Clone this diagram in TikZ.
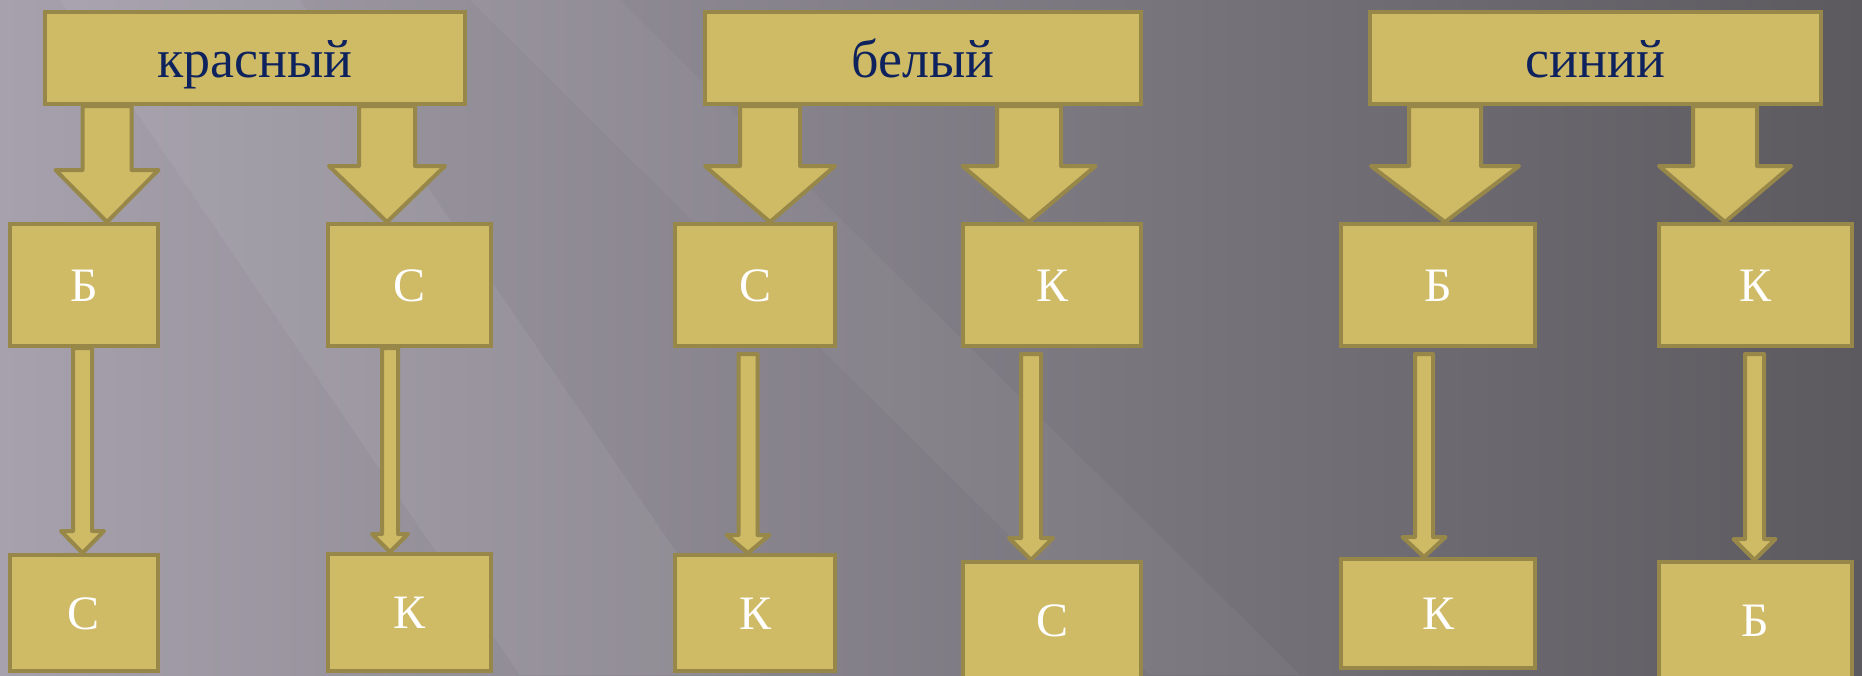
\documentclass[tikz,border=0pt]{standalone}
\usepackage{fontspec}
\setmainfont{Liberation Serif}
\usepackage{xcolor}
\usetikzlibrary{calc}
\definecolor{boxfill}{RGB}{207,186,102}
\definecolor{boxline}{RGB}{151,136,74}
\definecolor{titleblue}{RGB}{14,35,94}
\definecolor{bgleft}{RGB}{166,161,172}
\definecolor{bgmid}{RGB}{118,114,122}
\definecolor{bgright}{RGB}{92,89,95}
\tikzstyle{titlebox} = [rectangle, minimum width=420pt, minimum height=92pt, inner sep=0pt, text height=38pt, text depth=0pt, draw=boxline, fill=boxfill, line width=4pt, text=titleblue, font=\fontsize{54}{60}\selectfont]
\tikzstyle{letterbox} = [rectangle, minimum height=122pt, inner sep=0pt, text height=32pt, text depth=0pt, draw=boxline, fill=boxfill, line width=4pt, text=white, font=\fontsize{48}{54}\selectfont]
\tikzset{blockarrow/.style n args={3}{draw=boxline, fill=boxfill, line width=4pt, line join=round,
  to path={($(\tikztostart)+(-#1,0)$) -- ($(\tikztotarget)+(-#1,-#3)$) -- ($(\tikztotarget)+(-#2,-#3)$) -- (\tikztotarget) -- ($(\tikztotarget)+(#2,-#3)$) -- ($(\tikztotarget)+(#1,-#3)$) -- ($(\tikztostart)+(#1,0)$) -- cycle}}}

\begin{document}
\begin{tikzpicture}[x=1pt, y=-1pt, node distance=227pt]
	\useasboundingbox (0,0) rectangle (1862,675);
	\fill[left color=bgleft, middle color=bgmid, right color=bgright] (0,0) rectangle (1862,675);
	% light streaks
	\fill[white, opacity=.06] (60,0) -- (300,0) -- (760,675) -- (520,675) -- cycle;
	\fill[white, opacity=.04] (470,0) -- (620,0) -- (1300,675) -- (1150,675) -- cycle;
	% titles
	\node (kras) [titlebox] at (255,58) {красный};
	\node (bel) [titlebox, minimum width=436pt, right of=kras, xshift=441pt] {белый};
	\node (sin) [titlebox, minimum width=451pt, right of=bel, xshift=445.5pt] {синий};
	% first level
	\node (kb) [letterbox, minimum width=148pt, below of=kras, xshift=-171pt] {Б};
	\node (kc) [letterbox, minimum width=163pt, below of=kras, xshift=154.5pt] {С};
	\node (bc) [letterbox, minimum width=160pt, below of=bel, xshift=-168pt] {С};
	\node (bk) [letterbox, minimum width=178pt, below of=bel, xshift=129pt] {К};
	\node (sb) [letterbox, minimum width=194pt, below of=sin, xshift=-157.5pt] {Б};
	\node (sk) [letterbox, minimum width=193pt, below of=sin, xshift=160pt] {К};
	% second level
	\node (kbc) [letterbox, minimum width=148pt, minimum height=116pt, below of=kb, yshift=-101pt] {С};
	\node (kck) [letterbox, minimum width=163pt, minimum height=117pt, below of=kc, yshift=-100.5pt] {К};
	\node (bck) [letterbox, minimum width=160pt, minimum height=116pt, below of=bc, yshift=-101pt] {К};
	\node (bkc) [letterbox, minimum width=178pt, minimum height=116pt, below of=bk, yshift=-108pt] {С};
	\node (sbk) [letterbox, minimum width=194pt, minimum height=109pt, below of=sb, yshift=-101.5pt] {К};
	\node (skb) [letterbox, minimum width=193pt, minimum height=116pt, below of=sk, yshift=-108pt] {Б};
	% wide arrows
	\draw [blockarrow={24.5}{51.5}{52}] (kras.south -| 107,0) to (kb.north -| 107,0);
	\draw [blockarrow={28}{58}{56}] (kras.south -| 387,0) to (kc.north -| 387,0);
	\draw [blockarrow={30}{65}{56}] (bel.south -| 770,0) to (bc.north -| 770,0);
	\draw [blockarrow={32}{66.5}{56}] (bel.south -| 1029,0) to (bk.north -| 1029,0);
	\draw [blockarrow={36}{74}{56}] (sin.south -| 1445,0) to (sb.north -| 1445,0);
	\draw [blockarrow={32}{66}{56}] (sin.south -| 1725,0) to (sk.north -| 1725,0);
	% thin arrows
	\draw [blockarrow={9.5}{21.5}{22}] (kb.south -| 82.5,0) to (kbc.north -| 82.5,0);
	\draw [blockarrow={8}{18}{18}] (kc.south -| 390,0) to (kck.north -| 390,0);
	\draw [blockarrow={9.5}{21.5}{18}] ($(bc.south -| 748,0)+(0,6)$) to (bck.north -| 748,0);
	\draw [blockarrow={10}{22}{22}] ($(bk.south -| 1031,0)+(0,6)$) to (bkc.north -| 1031,0);
	\draw [blockarrow={9}{21.5}{20}] ($(sb.south -| 1424,0)+(0,6)$) to (sbk.north -| 1424,0);
	\draw [blockarrow={9.5}{21}{21}] ($(sk.south -| 1754.5,0)+(0,6)$) to (skb.north -| 1754.5,0);
\end{tikzpicture}
\end{document}
